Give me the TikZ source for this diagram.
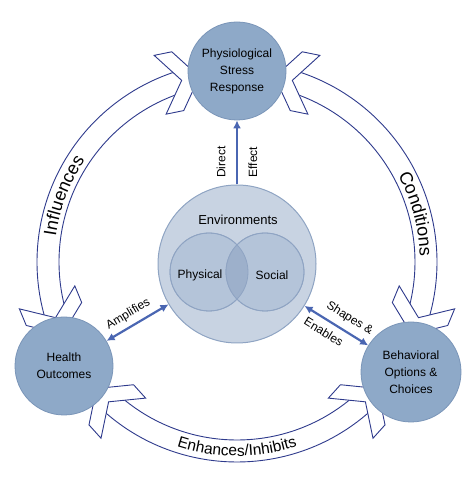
\documentclass[tikz,border=0pt]{standalone}
\usepackage{fontspec}
\setmainfont{Liberation Sans}
\usetikzlibrary{arrows.meta,decorations.text}
\definecolor{nodeblue}{HTML}{8EA9C8}
\definecolor{nodeline}{HTML}{7A95B8}
\definecolor{envfill}{HTML}{C8D3E2}
\definecolor{envline}{HTML}{8FA4C3}
\definecolor{innerfill}{HTML}{B4C4D9}
\definecolor{overlapfill}{HTML}{9DB0CB}
\definecolor{ringline}{HTML}{2E3A8C}
\definecolor{linkblue}{HTML}{4A66B2}

\begin{document}
\begin{tikzpicture}[x=1pt,y=1pt,>={Latex[length=8pt,width=8pt]},font=\fontsize{12}{17}\selectfont]
    \tikzstyle{band}=[fill=white,draw=ringline,line width=0.9pt,line join=miter]
    \tikzstyle{big}=[circle,fill=nodeblue,draw=nodeline,line width=0.8pt,minimum size=98pt,inner sep=0pt,align=center]
    \tikzstyle{env}=[circle,fill=envfill,draw=envline,line width=1pt,minimum size=158pt,inner sep=0pt]
    \tikzstyle{part}=[circle,fill=innerfill,draw=envline,line width=0.8pt,minimum size=78pt,inner sep=0pt]
    \tikzstyle{link}=[linkblue,line width=2.2pt]
    \useasboundingbox (0,0) rectangle (474,489);
    \coordinate (C) at (237,227);
    % ring of three bands
    \foreach \a/\b in {105.1/198.9,-18.9/74.9,225.6/314.4}
      \draw[band] ([shift={(\a:178)}]C) arc[start angle=\a,end angle=\b,radius=178]
        -- ([shift={(\b:200)}]C) arc[start angle=\b,end angle=\a,radius=200] -- cycle;
    % chevron heads at both ends of each band
    \foreach \t/\s in {101.5/-1,202.5/1,78.5/1,-22.5/-1,222/-1,318/1}
      \draw[band,shift={(C)},rotate=\t,yscale=\s]
        (189,0) -- (219,-22) -- (219,-40) -- (189,-18) -- (159,-40) -- (159,-22) -- cycle;
    % band labels
    \path[decorate,decoration={text along path,text align=center,
      text={|\fontsize{18}{18}\selectfont|Influences}}]
      ([shift={(178:183)}]C) arc[start angle=178,end angle=140,radius=183];
    \path[decorate,decoration={text along path,text align=center,
      text={|\fontsize{18}{18}\selectfont|Conditions}}]
      ([shift={(35:183)}]C) arc[start angle=35,end angle=-5,radius=183];
    \path[decorate,decoration={text along path,text align=center,
      text={|\fontsize{15.5}{15.5}\selectfont|Enhances/Inhibits}}]
      ([shift={(247:194)}]C) arc[start angle=247,end angle=293,radius=194];
    % outer nodes
    \node[big] (P) at (237,418) {Physiological\\Stress\\Response};
    \node[big] (H) at (64,123) {Health\\Outcomes};
    \node[big,minimum size=100pt] (B) at (411,117) {Behavioral\\Options \&\\Choices};
    % environments
    \node[env] (E) at (237,225) {};
    \node[part] (Ph) at (209,217) {};
    \node[part] (So) at (265,217) {};
    \begin{scope}
      \clip (Ph.center) circle (39);
      \fill[overlapfill] (So.center) circle (39);
    \end{scope}
    \draw[envline,line width=0.8pt] (Ph.center) circle (39) (So.center) circle (39);
    \node[font=\fontsize{13}{15}\selectfont] (Et) at (238,269) {Environments};
    \node (Pht) at (200,214) {Physical};
    \node (Sot) at (272,214) {Social};
    % links
    \draw[link,->] (E) -- node[sloped,above=7pt,pos=0.35,text=black]{Direct}
                          node[sloped,below=7pt,pos=0.35,text=black]{Effect} (P);
    \draw[link,<->] (H) -- node[sloped,above=2pt,pos=0.45,text=black]{Amplifies} (E);
    \draw[link,<->] (E) -- node[sloped,above=3pt,pos=0.6,text=black]{Shapes \&}
                           node[sloped,below=3pt,pos=0.4,text=black]{Enables} (B);
\end{tikzpicture}
\end{document}
